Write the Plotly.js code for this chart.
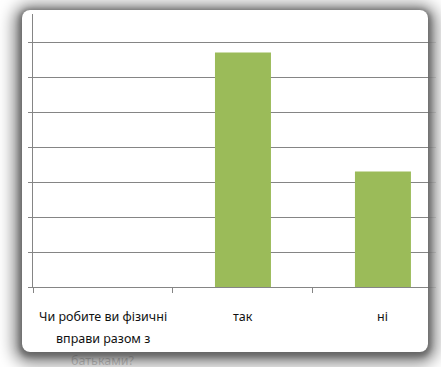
<!DOCTYPE html>
<html>
<head>
<meta charset="utf-8">
<script src="https://cdn.plot.ly/plotly-3.0.1.min.js"></script>
<style>
  html, body { margin: 0; padding: 0; background: #ffffff; }
  #wrap { position: relative; width: 441px; height: 367px; overflow: hidden; }
  #chart { position: absolute; left: 0; top: 0; width: 441px; height: 367px; z-index: 1; }
  #frame {
    position: absolute; left: 22px; top: 10px; width: 406px; height: 342px;
    border-radius: 8px; pointer-events: none; z-index: 10;
    box-shadow:
      0 2px 5px 3px rgba(70,70,70,0.5),
      0 3px 16px 8px rgba(0,0,0,0.5),
      0 0 0 60px rgba(255,255,255,0.8);
  }
</style>
</head>
<body>
<div id="wrap">
  <div id="chart"></div>
  <div id="frame"></div>
</div>
<script>
// Data
const categories = ["Чи робите ви фізичні вправи разом з батьками?", "так", "ні"];
const categoryLines = [["Чи робите ви фізичні", "вправи разом з", "батьками?"], ["так"], ["ні"]];
const values = [null, 67, 33];

const barColor = "#9BBB59";
const gridColor = "#858585";
const xIdx = categories.map((c, i) => i);

const trace = {
  type: "bar",
  x: xIdx,
  y: values,
  width: 0.4,
  marker: { color: barColor, line: { width: 0 } },
  hoverinfo: "skip"
};

const annotations = [];
categoryLines.forEach((lines, i) => {
  lines.forEach((ln, j) => {
    annotations.push({
      x: i, xref: "x",
      y: 0, yref: "y",
      yanchor: "middle", xanchor: "center",
      yshift: -29 - 22 * j,
      text: ln, showarrow: false,
      font: { family: "Noto Sans, Open Sans, sans-serif", size: 12.5, color: "#111111" }
    });
  });
});

const layout = {
  width: 441, height: 367,
  margin: { l: 33, r: 5, t: 14, b: 80 },
  paper_bgcolor: "#ffffff",
  plot_bgcolor: "#ffffff",
  showlegend: false,
  xaxis: {
    type: "linear",
    range: [-0.5, 2.379],
    tickmode: "array",
    tickvals: [-0.5, 0.5, 1.5],
    showticklabels: false,
    ticks: "outside", ticklen: 5, tickcolor: gridColor, tickwidth: 1,
    showgrid: false, zeroline: false,
    showline: true, linecolor: gridColor, linewidth: 1
  },
  yaxis: {
    range: [0, 78],
    tickmode: "array",
    tickvals: [0, 10, 20, 30, 40, 50, 60, 70],
    showticklabels: false,
    ticks: "outside", ticklen: 4, tickcolor: gridColor,
    showgrid: true, gridcolor: gridColor, gridwidth: 1,
    zeroline: false,
    showline: true, linecolor: gridColor, linewidth: 1
  },
  annotations: annotations
};

Plotly.newPlot("chart", [trace], layout, { staticPlot: true, displayModeBar: false });
</script>
</body>
</html>
